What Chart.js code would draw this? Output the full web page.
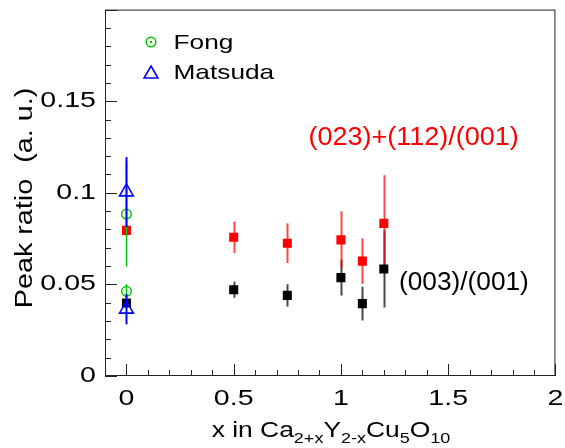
<!DOCTYPE html>
<html><head><meta charset="utf-8">
<script src="https://cdn.jsdelivr.net/npm/chart.js@4/dist/chart.umd.min.js"></script>
<style>html,body{margin:0;padding:0;background:#fff;} #wrap{width:565px;height:448px;position:relative;}</style>
</head><body><div id="wrap"><canvas id="c" width="565" height="448"></canvas></div>
<script>
// ---- data ----
const xRatio = [0, 0.5, 0.75, 1.0, 1.1, 1.2];
const peak023 = [0.0795, 0.0757, 0.0725, 0.0743, 0.0627, 0.0833];
const peak023Err = [0.003, 0.0086, 0.0108, 0.0156, 0.0124, 0.0263];
const peak003 = [0.0398, 0.0471, 0.0440, 0.0537, 0.0395, 0.0584];
const peak003Err = [0.002, 0.0044, 0.0061, 0.0098, 0.0092, 0.0210];
const fongX = [0, 0];
const fongVals = [0.0884, 0.0462];
const fongErr = [0.0287, 0.004];
const matsudaX = [0, 0];
const matsudaVals = [0.1005, 0.0365];
const matsudaErr = [0.019, 0.0083];
const xTicks = [0, 0.5, 1, 1.5, 2];
const xTickLabels = ['0', '0.5', '1', '1.5', '2'];
const yTicks = [0, 0.05, 0.1, 0.15];
const yTickLabels = ['0', '0.05', '0.1', '0.15'];
const legendLabels = ['Fong', 'Matsuda'];
const seriesLabels = ['(023)+(112)/(001)', '(003)/(001)'];
const yTitle = 'Peak ratio  (a. u.)';
const xTitleParts = [['x in Ca', 0], ['2+x', 1], ['Y', 0], ['2-x', 1], ['Cu', 0], ['5', 1], ['O', 0], ['10', 1]];

const FONT = '"Liberation Sans", Arial, Helvetica, sans-serif';
function pts(xs, ys) { return xs.map((x, i) => ({ x: x, y: ys[i] })); }

const COL_RED = '#ff0000', COL_BLK = '#000000', COL_GRN = '#00c800', COL_BLU = '#0000ff';

function stretchText(ctx, text, x, y, sx, align) {
  const w = ctx.measureText(text).width * sx;
  let x0 = x;
  if (align === 'center') x0 = x - w / 2;
  else if (align === 'right') x0 = x - w;
  ctx.save();
  ctx.translate(x0, y);
  ctx.scale(sx, 1);
  ctx.textAlign = 'left';
  ctx.textBaseline = 'alphabetic';
  ctx.fillText(text, 0, 0);
  ctx.restore();
  return w;
}

function drawErrBars(chart, dsIndex, color, width) {
  const ds = chart.data.datasets[dsIndex];
  const xs = chart.scales.x, ys = chart.scales.y;
  const ctx = chart.ctx;
  ctx.save();
  ctx.strokeStyle = color;
  ctx.lineWidth = width;
  ds.data.forEach((p, i) => {
    const e = ds.err[i];
    const px = Math.round(xs.getPixelForValue(p.x)) + 0.5;
    ctx.beginPath();
    ctx.moveTo(px, ys.getPixelForValue(p.y + e));
    ctx.lineTo(px, ys.getPixelForValue(p.y - e));
    ctx.stroke();
  });
  ctx.restore();
}

// horizontally widened tick text (the reference font is drawn wide)
let tickStretch = 1;
function patchCtx(ctx) {
  if (ctx.__patched) return;
  const orig = ctx.fillText;
  ctx.fillText = function (t, x, y, mw) {
    if (tickStretch !== 1) {
      this.save();
      this.translate(x, y);
      this.scale(tickStretch, 1);
      orig.call(this, t, 0, 0);
      this.restore();
    } else if (mw !== undefined) {
      orig.call(this, t, x, y, mw);
    } else {
      orig.call(this, t, x, y);
    }
  };
  ctx.__patched = true;
}

const custom = {
  id: 'custom',
  beforeDraw(chart) { patchCtx(chart.ctx); tickStretch = 1.3; },
  beforeDatasetsDraw(chart) {
    tickStretch = 1;
    drawErrBars(chart, 3, 'rgba(0,0,0,0.72)', 2);
    drawErrBars(chart, 2, 'rgba(255,0,0,0.72)', 2);
  },
  afterDatasetsDraw(chart) {
    tickStretch = 1;
    drawErrBars(chart, 1, COL_GRN, 1.5);
    drawErrBars(chart, 0, COL_BLU, 2);
    const ctx = chart.ctx, ca = chart.chartArea;
    const xs = chart.scales.x, ys = chart.scales.y;
    ctx.save();
    // frame
    ctx.strokeStyle = '#222';
    ctx.lineWidth = 1;
    ctx.strokeRect(ca.left + 0.5, ca.top + 0.5, ca.right - ca.left - 1, ca.bottom - ca.top - 1);
    // ticks (inside)
    ctx.beginPath();
    for (let k = 0; k <= 20; k++) {
      const v = k * 0.01;
      const major = (k % 5 === 0);
      const py = Math.round(ys.getPixelForValue(v)) + 0.5;
      ctx.moveTo(ca.left, py);
      ctx.lineTo(ca.left + (major ? 12 : 6), py);
    }
    for (let k = -1; k <= 20; k++) {
      const v = k * 0.1;
      const major = (k % 5 === 0);
      const px = Math.round(xs.getPixelForValue(v)) + 0.5;
      ctx.moveTo(px, ca.bottom);
      ctx.lineTo(px, ca.bottom - (major ? 12 : 6));
    }
    ctx.stroke();

    // legend
    ctx.lineWidth = 1.5;
    ctx.strokeStyle = COL_GRN;
    ctx.beginPath(); ctx.arc(151, 42, 4.8, 0, Math.PI * 2); ctx.stroke();
    ctx.fillStyle = COL_GRN; ctx.fillRect(150, 41, 2, 2);
    ctx.strokeStyle = COL_BLU; ctx.lineWidth = 1.6;
    ctx.beginPath();
    const tr = 8, tx = 151, ty = 74;
    ctx.moveTo(tx, ty - tr);
    ctx.lineTo(tx + tr * Math.sin(2 * Math.PI / 3), ty + tr / 2);
    ctx.lineTo(tx - tr * Math.sin(2 * Math.PI / 3), ty + tr / 2);
    ctx.closePath(); ctx.stroke();
    ctx.fillStyle = '#000';
    ctx.font = '21px ' + FONT;
    stretchText(ctx, legendLabels[0], 173.5, 48.5, 1.25, 'left');
    stretchText(ctx, legendLabels[1], 173.5, 79, 1.25, 'left');

    // series labels
    ctx.font = '25px ' + FONT;
    ctx.fillStyle = COL_RED;
    stretchText(ctx, seriesLabels[0], 308.5, 144.5, 1.08, 'left');
    ctx.fillStyle = COL_BLK;
    stretchText(ctx, seriesLabels[1], 399, 289.5, 1.05, 'left');

    // y title
    ctx.fillStyle = '#000';
    ctx.font = '23px ' + FONT;
    ctx.save();
    ctx.translate(31.5, 198);
    ctx.rotate(-Math.PI / 2);
    stretchText(ctx, yTitle, 0, 0, 1.25, 'center');
    ctx.restore();

    // x title with subscripts
    const sx = 1.2, mainF = '22px ' + FONT, subF = '15px ' + FONT;
    let total = 0;
    xTitleParts.forEach(([t, sub]) => { ctx.font = sub ? subF : mainF; total += ctx.measureText(t).width * sx; });
    let cx = 331 - total / 2;
    xTitleParts.forEach(([t, sub]) => {
      ctx.font = sub ? subF : mainF;
      cx += stretchText(ctx, t, cx, sub ? 443 : 437, sx, 'left');
    });
    ctx.restore();
  }
};

new Chart(document.getElementById('c'), {
  type: 'scatter',
  data: {
    datasets: [
      { label: legendLabels[1], data: pts(matsudaX, matsudaVals), err: matsudaErr,
        pointStyle: 'triangle', pointRadius: 8, pointBorderColor: COL_BLU, pointBackgroundColor: 'rgba(0,0,0,0)', pointBorderWidth: 1.6, showLine: false },
      { label: legendLabels[0], data: pts(fongX, fongVals), err: fongErr,
        pointStyle: 'circle', pointRadius: 4.8, pointBorderColor: COL_GRN, pointBackgroundColor: 'rgba(0,0,0,0)', pointBorderWidth: 1.5, showLine: false },
      { label: seriesLabels[0], data: pts(xRatio, peak023), err: peak023Err,
        pointStyle: 'rect', pointRadius: 6.4, pointBackgroundColor: COL_RED, pointBorderColor: COL_RED, pointBorderWidth: 0, showLine: false },
      { label: seriesLabels[1], data: pts(xRatio, peak003), err: peak003Err,
        pointStyle: 'rect', pointRadius: 6.4, pointBackgroundColor: COL_BLK, pointBorderColor: COL_BLK, pointBorderWidth: 0, showLine: false }
    ]
  },
  options: {
    responsive: false,
    animation: false,
    devicePixelRatio: 1,
    layout: { padding: { left: 0, right: 8, top: 5, bottom: 0 } },
    plugins: { legend: { display: false }, tooltip: { enabled: false } },
    scales: {
      x: {
        type: 'linear', min: -0.1, max: 2,
        grid: { display: false, drawTicks: false, tickLength: 0 },
        border: { display: false },
        afterBuildTicks: s => { s.ticks = xTicks.map(v => ({ value: v })); },
        afterFit: s => { s.height = 72; s.paddingLeft = 0; s.paddingRight = 0; s.paddingTop = 0; s.paddingBottom = 0; },
        ticks: { autoSkip: false, maxRotation: 0, padding: 10, color: '#000',
          font: { family: FONT, size: 22 },
          callback: (v, i) => xTickLabels[i] }
      },
      y: {
        type: 'linear', min: 0, max: 0.2,
        grid: { display: false, drawTicks: false, tickLength: 0 },
        border: { display: false },
        afterBuildTicks: s => { s.ticks = yTicks.map(v => ({ value: v })); },
        afterFit: s => { s.width = 105; s.paddingLeft = 0; s.paddingRight = 0; s.paddingTop = 0; s.paddingBottom = 0; },
        ticks: { autoSkip: false, padding: 9, color: '#000',
          font: { family: FONT, size: 22 },
          callback: (v, i) => yTickLabels[i] }
      }
    }
  },
  plugins: [custom]
});
</script>
</body></html>
